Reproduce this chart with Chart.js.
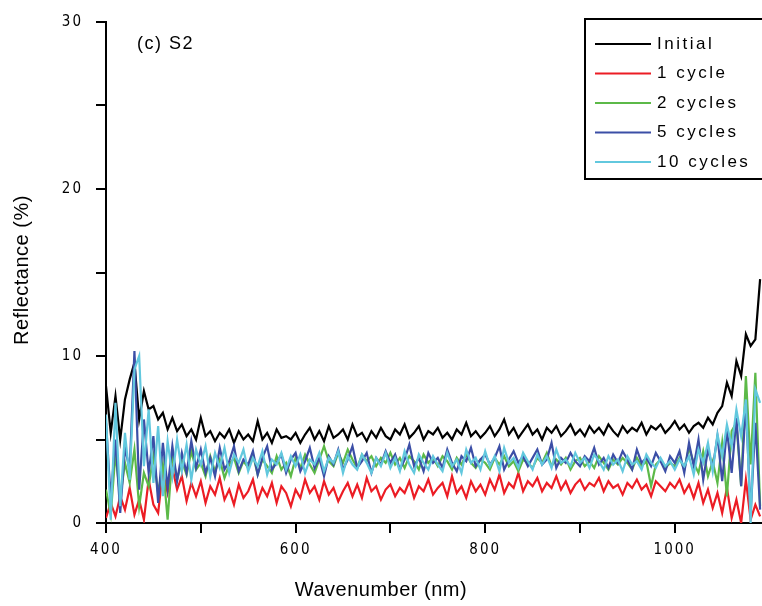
<!DOCTYPE html>
<html>
<head>
<meta charset="utf-8">
<script src="https://cdn.jsdelivr.net/npm/chart.js@4.4.1/dist/chart.umd.min.js"></script>
<style>
  html, body { margin: 0; padding: 0; background: #fff; }
  canvas { display: block; }
</style>
</head>
<body>
<canvas id="reflectanceChart" width="762" height="606"></canvas>
<script>
// wavelength grid (nm)
const wavelengths = [
  400, 405, 410, 415, 420, 425, 430, 435, 440, 445,
  450, 455, 460, 465, 470, 475, 480, 485, 490, 495,
  500, 505, 510, 515, 520, 525, 530, 535, 540, 545,
  550, 555, 560, 565, 570, 575, 580, 585, 590, 595,
  600, 605, 610, 615, 620, 625, 630, 635, 640, 645,
  650, 655, 660, 665, 670, 675, 680, 685, 690, 695,
  700, 705, 710, 715, 720, 725, 730, 735, 740, 745,
  750, 755, 760, 765, 770, 775, 780, 785, 790, 795,
  800, 805, 810, 815, 820, 825, 830, 835, 840, 845,
  850, 855, 860, 865, 870, 875, 880, 885, 890, 895,
  900, 905, 910, 915, 920, 925, 930, 935, 940, 945,
  950, 955, 960, 965, 970, 975, 980, 985, 990, 995,
  1000, 1005, 1010, 1015, 1020, 1025, 1030, 1035, 1040, 1045,
  1050, 1055, 1060, 1065, 1070, 1075, 1080, 1085, 1090
];

// reflectance (%)
const initial = [
  8.2, 5.4, 7.6, 5.0, 7.4, 8.6, 9.6, 6.2, 7.9, 6.8,
  7.0, 6.2, 6.6, 5.6, 6.3, 5.5, 5.9, 5.2, 5.6, 5.0,
  6.3, 5.2, 5.5, 4.9, 5.4, 5.1, 5.6, 4.8, 5.5, 5.0,
  5.3, 4.9, 6.1, 5.0, 5.4, 4.8, 5.6, 5.1, 5.2, 5.0,
  5.4, 4.8, 5.3, 5.7, 5.0, 5.5, 4.9, 5.8, 5.1, 5.3,
  5.6, 5.0, 5.9, 5.2, 5.4, 4.9, 5.5, 5.1, 5.7, 5.2,
  5.0, 5.6, 5.3, 5.9, 5.1, 5.4, 5.8, 5.0, 5.5, 5.3,
  5.7, 5.1, 5.4, 5.0, 5.6, 5.3, 6.0, 5.2, 5.5, 5.1,
  5.4, 5.8, 5.2, 5.6, 6.2, 5.3, 5.7, 5.1, 5.5, 5.9,
  5.3, 5.6, 5.0, 5.7, 5.4, 5.8, 5.2, 5.5, 5.9, 5.3,
  5.6, 5.2, 5.8, 5.4, 5.7, 5.3, 5.9, 5.5, 5.2, 5.8,
  5.4, 5.7, 5.5, 6.0, 5.3, 5.8, 5.6, 5.9, 5.4, 5.7,
  6.1, 5.6, 5.9, 5.4, 5.8, 6.0, 5.7, 6.3, 5.9, 6.6,
  7.0, 8.4, 7.6, 9.7, 8.8, 11.3, 10.6, 11.0, 14.6
];
const cycle1 = [
  0.3, 1.2, 0.4, 1.6, 0.8, 2.1, 0.5, 1.4, 0.2, 2.6,
  1.1, 0.6, 3.1, 1.8, 3.3, 2.0, 2.8, 1.3, 2.4, 1.6,
  2.5, 1.2, 2.2, 1.7, 2.7, 1.4, 2.0, 1.1, 2.3, 1.5,
  1.9, 2.6, 1.3, 2.1, 1.6, 2.4, 1.2, 2.2, 1.8, 1.0,
  2.0, 1.5, 2.6, 1.8, 2.2, 1.4, 2.5, 1.7, 2.1, 1.3,
  1.9, 2.4, 1.6, 2.3, 1.5, 2.7, 1.9, 2.2, 1.4, 2.0,
  2.3, 1.6, 2.1, 1.8, 2.5, 1.5, 2.2, 1.9, 2.6, 1.7,
  2.1, 2.4, 1.6, 2.8, 1.8, 2.2, 1.5, 2.5, 1.9, 2.3,
  1.7, 2.6, 2.0, 2.9, 1.8, 2.4, 2.1, 3.0, 1.9, 2.5,
  2.2, 2.7, 1.9, 2.4, 2.1, 2.8, 2.0, 2.5, 1.8, 2.3,
  2.6, 2.0, 2.4, 2.2, 2.7, 1.9, 2.5, 2.1, 2.3, 1.7,
  2.4, 2.1, 2.6, 2.0, 2.3, 1.6, 2.5, 2.2, 1.9, 2.4,
  2.1, 2.6, 1.8, 2.3, 1.5, 2.4, 1.2, 2.0, 0.9, 1.8,
  0.6, 2.1, 0.3, 1.4, 0.0, 2.6, 0.2, 1.1, 0.4
];
const cycles2 = [
  2.0, 0.5, 4.2, 1.5, 3.6, 2.4, 4.4, 1.0, 3.0, 2.2,
  4.0, 1.8, 3.5, 0.2, 4.1, 2.6, 3.7, 2.9, 4.3, 3.2,
  3.6, 2.8, 4.0, 3.1, 3.8, 2.7, 3.5, 3.9, 3.0, 3.7,
  3.3, 4.1, 2.9, 3.8, 3.4, 3.0, 4.0, 3.2, 3.6, 2.8,
  3.9, 3.3, 4.1, 3.5, 3.0, 3.8, 4.6, 3.7, 3.4, 4.2,
  3.6, 4.4, 3.8, 3.3, 4.1, 3.7, 4.0, 3.4, 3.9, 3.6,
  4.2, 3.5, 3.9, 3.3, 4.0, 3.7, 3.2, 4.1, 3.6, 3.9,
  3.4, 4.0, 3.7, 3.2, 3.9, 3.5, 4.1, 3.6, 3.3, 3.8,
  3.6, 3.2, 3.9, 3.5, 4.0, 3.4, 3.7, 3.1, 3.8, 3.6,
  3.3, 3.9, 3.6, 4.2, 3.4, 3.8, 3.5, 3.9, 3.2, 3.7,
  3.9, 3.4, 3.7, 3.3, 4.0, 3.6, 3.2, 3.8, 3.5, 3.9,
  3.6, 3.2, 3.9, 3.4, 3.7, 2.2, 3.5, 3.8, 3.3, 3.6,
  3.4, 3.9, 3.2, 4.5, 3.6, 3.0, 4.3, 2.8, 3.7, 2.4,
  4.8, 1.6, 5.5, 6.0, 2.2, 8.8, 3.5, 9.0, 1.0
];
const cycles5 = [
  6.0, 1.5, 5.0, 0.6, 4.5, 3.2, 10.3, 2.0, 6.2, 3.0,
  5.2, 1.2, 4.8, 2.1, 4.6, 2.5, 4.2, 3.0, 4.9, 3.3,
  4.4, 3.0, 3.9, 2.8, 4.5, 3.2, 3.7, 4.6, 3.1, 3.8,
  3.5, 4.3, 2.9, 3.9, 4.6, 3.2, 3.6, 4.1, 3.0, 3.8,
  4.2, 3.1, 3.7, 4.5, 3.3, 3.9, 2.8, 4.0, 3.5, 4.4,
  3.2, 3.8, 4.6, 3.3, 3.7, 4.2, 3.0, 3.9, 3.5, 4.3,
  3.6, 4.1, 3.2, 3.8, 4.7, 3.4, 3.9, 3.1, 4.2, 3.6,
  3.9, 3.3, 4.4, 3.6, 3.1, 4.0, 3.7, 4.5, 3.4, 3.8,
  4.1, 3.5, 3.9, 4.6, 3.2, 3.8, 4.3, 3.6, 4.0, 3.4,
  3.9, 4.4, 3.5, 3.8, 4.8, 3.3, 3.9, 3.6, 4.2, 3.7,
  3.4, 4.0, 3.7, 4.5, 3.5, 3.9, 3.3, 4.1, 3.6, 4.3,
  3.8, 3.2, 4.4, 3.6, 3.9, 3.4, 4.2, 3.7, 3.1, 4.0,
  3.6, 4.3, 3.0, 4.8, 3.4, 5.0, 2.6, 4.4, 3.3, 5.2,
  2.5, 5.6, 3.0, 6.3, 2.2, 7.2, 0.5, 6.0, 0.8
];
const cycles10 = [
  6.5, 0.2, 7.2, 1.0, 5.4, 2.6, 9.2, 10.0, 3.4, 6.8,
  2.4, 5.8, 1.6, 4.9, 2.8, 5.0, 3.1, 4.7, 2.6, 4.4,
  3.5, 4.6, 2.8, 4.2, 3.3, 4.5, 3.0, 4.1, 3.6, 4.4,
  3.1, 3.9, 3.4, 4.3, 2.9, 3.8, 3.5, 4.2, 3.2, 4.0,
  3.4, 4.1, 3.0, 3.8, 3.5, 4.2, 3.1, 3.9, 3.6, 4.3,
  3.0, 4.0, 3.5, 3.2, 4.1, 3.6, 3.0, 3.9, 3.4, 4.2,
  3.3, 3.9, 3.1, 4.3, 3.5, 3.0, 4.1, 3.6, 3.2, 4.0,
  3.5, 3.1, 4.2, 3.4, 3.8, 3.0, 4.4, 3.6, 3.9, 3.2,
  4.3, 3.4, 4.0, 3.1, 4.5, 3.6, 3.9, 3.3, 4.2, 3.7,
  3.2, 4.1, 3.5, 4.0, 3.3, 4.4, 3.6, 3.8, 3.4, 4.2,
  3.6, 3.9, 3.3, 4.1, 3.7, 3.2, 4.0, 3.5, 3.8, 3.1,
  4.0, 3.5, 3.7, 3.2, 4.1, 3.6, 3.3, 3.9, 3.4, 3.7,
  3.2, 3.8, 3.4, 4.0, 2.9, 4.4, 3.6, 4.8, 3.1, 5.3,
  4.0, 5.9, 4.6, 6.8, 5.2, 7.4, 0.0, 8.0, 7.2
];

const seriesLabels = ['Initial', '1 cycle', '2 cycles', '5 cycles', '10 cycles'];
const seriesColors = ['#000000', '#ec1c24', '#5cb948', '#3b4ea6', '#62c8de'];

const xTickValues = [400, 500, 600, 700, 800, 900, 1000];
const xTickLabels = ['400', '', '600', '', '800', '', '1000'];
const yTickValues = [0, 5, 10, 15, 20, 25, 30];
const yTickLabels = ['0', '', '10', '', '20', '', '30'];

const FONT = '"Liberation Sans", Arial, sans-serif';
const TICK_FONT = '"Liberation Sans Narrow", "DejaVu Sans Condensed", Arial, sans-serif';

function toPoints(values) {
  return wavelengths.map((w, i) => ({ x: w, y: values[i] }));
}

// later series are drawn on top (cyan over blue over green ...)
let datasets = [initial, cycle1, cycles2, cycles5, cycles10].map((values, i) => ({
  label: seriesLabels[i],
  data: toPoints(values),
  borderColor: seriesColors[i],
  backgroundColor: seriesColors[i],
  borderWidth: 2.2,
  pointRadius: 0,
  tension: 0,
  order: 4 - i
}));

// spaced-out tick digits like the original, reset before the lines are drawn
const tickSpacingPlugin = {
  id: 'tickSpacing',
  beforeDraw(chart) { chart.ctx.letterSpacing = '2px'; },
  beforeDatasetsDraw(chart) { chart.ctx.letterSpacing = '0px'; }
};

// axis titles, framed legend and the panel tag
const annotationsPlugin = {
  id: 'annotations',
  afterDraw(chart) {
    const ctx = chart.ctx;
    ctx.save();
    ctx.fillStyle = '#000';
    ctx.textBaseline = 'middle';

    ctx.font = '20px ' + FONT;
    ctx.letterSpacing = '0.5px';
    ctx.textAlign = 'center';
    ctx.fillText('Wavenumber (nm)', 381, 590);

    ctx.save();
    ctx.translate(22, 270);
    ctx.rotate(-Math.PI / 2);
    ctx.fillText('Reflectance (%)', 0, 0);
    ctx.restore();

    ctx.textAlign = 'left';
    ctx.font = '18px ' + FONT;
    ctx.letterSpacing = '1.5px';
    ctx.fillText('(c) S2', 137, 44);

    // legend box
    ctx.strokeStyle = '#000';
    ctx.lineWidth = 2;
    ctx.strokeRect(585, 19, 190, 160);

    ctx.font = '17px ' + FONT;
    ctx.letterSpacing = '2.5px';
    chart.data.datasets.forEach((ds, i) => {
      const y = 44 + i * 29.5;
      ctx.strokeStyle = ds.borderColor;
      ctx.lineWidth = 2;
      ctx.beginPath();
      ctx.moveTo(595, y);
      ctx.lineTo(651, y);
      ctx.stroke();
      ctx.fillText(ds.label, 657, y);
    });
    ctx.restore();
  }
};

const ctx = document.getElementById('reflectanceChart').getContext('2d');

new Chart(ctx, {
  type: 'line',
  data: { datasets: datasets },
  options: {
    responsive: false,
    animation: false,
    devicePixelRatio: 1,
    layout: { padding: { top: 20, right: 0, left: 0, bottom: 0 } },
    plugins: {
      legend: { display: false },
      tooltip: { enabled: false }
    },
    scales: {
      x: {
        type: 'linear',
        min: 400,
        max: 1092,
        afterBuildTicks: (scale) => { scale.ticks = xTickValues.map(v => ({ value: v })); },
        afterFit: (scale) => { scale.height = 83; },
        border: { display: true, color: '#000', width: 2 },
        grid: { drawOnChartArea: false, drawTicks: true, tickLength: 10, color: '#000', lineWidth: 2 },
        ticks: {
          padding: 8,
          color: '#000',
          font: { family: TICK_FONT, size: 15 },
          maxRotation: 0,
          callback: (value) => xTickLabels[xTickValues.indexOf(value)]
        }
      },
      y: {
        min: 0,
        max: 30,
        afterBuildTicks: (scale) => { scale.ticks = yTickValues.map(v => ({ value: v })); },
        afterFit: (scale) => { scale.width = 106; },
        border: { display: true, color: '#000', width: 2 },
        grid: { drawOnChartArea: false, drawTicks: true, tickLength: 10, color: '#000', lineWidth: 2 },
        ticks: {
          padding: 13,
          color: '#000',
          font: { family: TICK_FONT, size: 15 },
          callback: (value) => yTickLabels[yTickValues.indexOf(value)]
        }
      }
    }
  },
  plugins: [tickSpacingPlugin, annotationsPlugin]
});
</script>
</body>
</html>
